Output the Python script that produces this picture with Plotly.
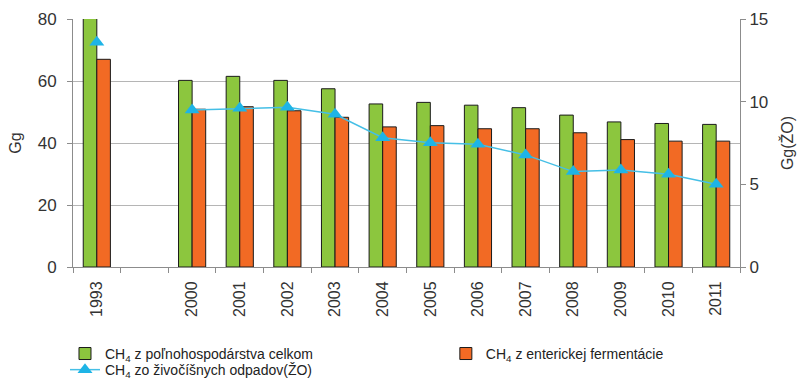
import plotly.graph_objects as go

categories = ["1993", " ", "2000", "2001", "2002", "2003", "2004", "2005",
              "2006", "2007", "2008", "2009", "2010", "2011"]
agri_total = [80.5, None, 60.2, 61.5, 60.2, 57.5, 52.6, 53.1, 52.2, 51.4, 49.0, 46.8, 46.3, 46.0]
enteric = [67.0, None, 50.9, 51.7, 50.4, 48.3, 45.2, 45.6, 44.6, 44.6, 43.3, 41.1, 40.6, 40.6]
waste = [13.6, None, 9.5, 9.6, 9.66, 9.24, 7.82, 7.52, 7.42, 6.78, 5.77, 5.87, 5.61, 5.0]

names = ["CH<sub>4</sub> z poľnohospodárstva celkom",
         "CH<sub>4</sub> z enterickej fermentácie",
         "CH<sub>4</sub> zo živočíšnych odpadov(ŽO)"]

font_fam = "Liberation Sans, Arial, sans-serif"

fig = go.Figure()
fig.add_trace(go.Bar(x=categories, y=agri_total, name=names[0], legend="legend",
                     marker=dict(color="#8CC63E", line=dict(color="#1a1a1a", width=1))))
fig.add_trace(go.Bar(x=categories, y=enteric, name=names[1], legend="legend2",
                     marker=dict(color="#F26A24", line=dict(color="#1a1a1a", width=1))))
fig.add_trace(go.Scatter(x=categories, y=waste, name=names[2], yaxis="y2", legend="legend3",
                         mode="lines+markers", connectgaps=False,
                         line=dict(color="#45BFE6", width=1.5),
                         marker=dict(symbol="triangle-up", size=13, color="#1EB4E6")))

leg_common = dict(orientation="v", yanchor="top", xanchor="left", traceorder="normal",
                  font=dict(size=14, color="#222222"), itemwidth=30,
                  tracegroupgap=0, bgcolor="rgba(0,0,0,0)")

fig.update_layout(
    width=804, height=385,
    margin=dict(l=73, r=64, t=19, b=118, autoexpand=False),
    paper_bgcolor="white", plot_bgcolor="white",
    font=dict(family=font_fam, size=13, color="#333333"),
    barmode="group", bargap=0.43, bargroupgap=0,
    showlegend=True,
    legend=dict(x=-0.012, y=-0.286, **leg_common),
    legend2=dict(x=0.559, y=-0.286, **leg_common),
    legend3=dict(x=-0.012, y=-0.351, **leg_common),
    xaxis=dict(type="category", tickangle=-90, showgrid=False, automargin=False,
               range=[-0.5, len(categories) - 0.5],
               showline=True, linecolor="#8c8c8c", linewidth=1,
               ticks="outside", tickson="boundaries", ticklen=5, tickcolor="#8c8c8c",
               ticklabelstandoff=7,
               tickfont=dict(size=16, color="#333333")),
    yaxis=dict(range=[0, 80], dtick=20, showgrid=True, gridcolor="#b5b5b5", gridwidth=1,
               showline=True, linecolor="#8c8c8c", linewidth=1, automargin=False,
               ticks="outside", ticklen=5, tickcolor="#8c8c8c", ticklabelstandoff=7,
               title=dict(text="Gg", font=dict(size=16, color="#333333"), standoff=12),
               zeroline=False, tickfont=dict(size=17)),
    yaxis2=dict(range=[0, 15], dtick=5, overlaying="y", side="right", showgrid=False,
                showline=True, linecolor="#8c8c8c", linewidth=1, automargin=False,
                ticks="outside", ticklen=5, tickcolor="#8c8c8c",
                title=dict(text="Gg(ŽO)", font=dict(size=16, color="#333333"), standoff=14),
                zeroline=False, tickfont=dict(size=17)),
)

fig.write_html("out.html", config={"displayModeBar": False},
               post_script="document.body.style.margin='0px';")
